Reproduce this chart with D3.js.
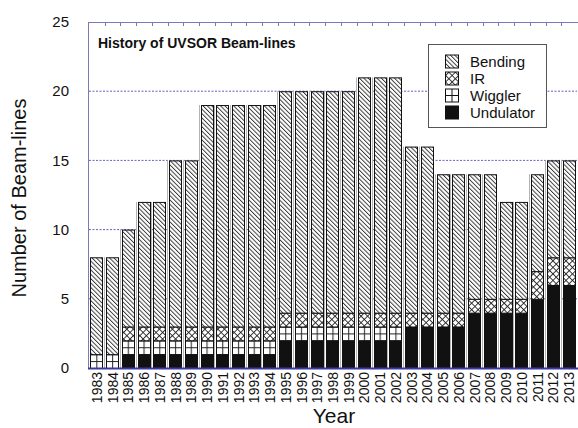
<!DOCTYPE html>
<html><head><meta charset="utf-8">
<script src="https://cdn.jsdelivr.net/npm/d3@7/dist/d3.min.js"></script>
<style>html,body{margin:0;padding:0;background:#fff;}svg{display:block;font-family:Arial,"Liberation Sans",sans-serif;}</style>
</head><body>
<script>
const years = ["1983","1984","1985","1986","1987","1988","1989","1990","1991","1992","1993","1994","1995","1996","1997","1998","1999","2000","2001","2002","2003","2004","2005","2006","2007","2008","2009","2010","2011","2012","2013"];
const undulator = [0,0,1,1,1,1,1,1,1,1,1,1,2,2,2,2,2,2,2,2,3,3,3,3,4,4,4,4,5,6,6];
const wiggler   = [1,1,1,1,1,1,1,1,1,1,1,1,1,1,1,1,1,1,1,1,0,0,0,0,0,0,0,0,0,0,0];
const ir        = [0,0,1,1,1,1,1,1,1,1,1,1,1,1,1,1,1,1,1,1,1,1,1,1,1,1,1,1,2,2,2];
const bending   = [7,7,7,9,9,12,12,16,16,16,16,16,16,16,16,16,16,17,17,17,12,12,10,10,9,9,7,7,7,7,7];
const seriesNames = ["Undulator","Wiggler","IR","Bending"];
const yTicks = [0,5,10,15,20,25];
const legendOrder = ["Bending","IR","Wiggler","Undulator"];

const W = 578, H = 428;
const svg = d3.select("body").append("svg").attr("width", W).attr("height", H);
const defs = svg.append("defs");

const x = d3.scaleBand().domain(years).range([89, 577]).paddingInner(0.17).paddingOuter(0.085);
const y = d3.scaleLinear().domain([0, 25]).range([368, 22]);

// patterns
const pB = defs.append("pattern").attr("id","pBending").attr("patternUnits","userSpaceOnUse")
  .attr("width",3.1).attr("height",3.1).attr("patternTransform","rotate(-45)");
pB.append("rect").attr("width",3.1).attr("height",3.1).attr("fill","#fff");
pB.append("line").attr("x1",0.5).attr("y1",0).attr("x2",0.5).attr("y2",3.1).attr("stroke","#222").attr("stroke-width",0.85);

const pI = defs.append("pattern").attr("id","pIR").attr("patternUnits","userSpaceOnUse")
  .attr("width",4.6).attr("height",4.6).attr("patternTransform","rotate(45)");
pI.append("rect").attr("width",4.6).attr("height",4.6).attr("fill","#fff");
pI.append("line").attr("x1",0.5).attr("y1",0).attr("x2",0.5).attr("y2",4.6).attr("stroke","#222").attr("stroke-width",0.9);
pI.append("line").attr("x1",0).attr("y1",0.5).attr("x2",4.6).attr("y2",0.5).attr("stroke","#222").attr("stroke-width",0.9);

const unitH = y(0) - y(1);
const pW = defs.append("pattern").attr("id","pWiggler").attr("patternUnits","userSpaceOnUse")
  .attr("x", x(years[0])).attr("y", y(0))
  .attr("width", x.step()).attr("height", unitH/2);
pW.append("rect").attr("width", x.step()).attr("height", unitH/2).attr("fill","#fff");
pW.append("line").attr("x1", x.bandwidth()/2).attr("y1",0).attr("x2", x.bandwidth()/2).attr("y2",unitH/2).attr("stroke","#222").attr("stroke-width",1);
pW.append("line").attr("x1",0).attr("y1",0.5).attr("x2",x.step()).attr("y2",0.5).attr("stroke","#222").attr("stroke-width",1);

const fills = {Bending:"url(#pBending)", IR:"url(#pIR)", Wiggler:"url(#pWiggler)", Undulator:"#111"};

// gridlines
svg.append("g").selectAll("line").data(yTicks.filter(t => t > 0 && t < 25)).join("line")
  .attr("x1", 89).attr("x2", 577).attr("y1", d => y(d)).attr("y2", d => y(d))
  .attr("stroke","#3a3ab0").attr("stroke-width",0.8).attr("stroke-dasharray","2,1.5");

// stacked bars
const rows = years.map((yr,i) => ({year: yr, Undulator: undulator[i], Wiggler: wiggler[i], IR: ir[i], Bending: bending[i]}));
const totals = years.map((yr,i) => ({year: yr, total: undulator[i] + wiggler[i] + ir[i] + bending[i]}));
const stack = d3.stack().keys(seriesNames)(rows);

// light gray shadow line at left of each bar
svg.append("g").selectAll("line").data(totals).join("line")
  .attr("x1", d => Math.round(x(d.year)) - 1.5).attr("x2", d => Math.round(x(d.year)) - 1.5)
  .attr("y1", d => y(d.total)).attr("y2", y(0))
  .attr("stroke", "#b4b4b4").attr("stroke-width", 1);

const gBars = svg.append("g");
stack.forEach(layer => {
  gBars.append("g").selectAll("rect").data(layer.filter(d => d[1] > d[0])).join("rect")
    .attr("x", d => Math.round(x(d.data.year)) + 0.5)
    .attr("width", Math.round(x.bandwidth()) - 1)
    .attr("y", d => y(d[1]) + 0.5)
    .attr("height", d => y(d[0]) - y(d[1]))
    .attr("fill", fills[layer.key])
    .attr("stroke", "#111").attr("stroke-width", 1);
});

// axes frame
svg.append("line").attr("x1",88.5).attr("x2",88.5).attr("y1",y(25)).attr("y2",y(0)).attr("stroke","#7a7ab8").attr("stroke-width",1);
svg.append("line").attr("x1",88.5).attr("x2",578).attr("y1",y(25)+0.5).attr("y2",y(25)+0.5).attr("stroke","#7a7ab8").attr("stroke-width",1);
svg.append("line").attr("x1",88).attr("x2",578).attr("y1",y(0)+0.5).attr("y2",y(0)+0.5).attr("stroke","#3a3aa0").attr("stroke-width",2);
// top ticks at band boundaries
svg.append("g").selectAll("line").data(years.slice(0,-1)).join("line")
  .attr("x1", d => Math.round(x(d) + x.bandwidth() + x.step()*x.paddingInner()/2) + 0.5)
  .attr("x2", d => Math.round(x(d) + x.bandwidth() + x.step()*x.paddingInner()/2) + 0.5)
  .attr("y1", y(25)).attr("y2", y(25) + 4).attr("stroke","#7a7ab8").attr("stroke-width",1);

// y tick labels
svg.append("g").selectAll("text").data(yTicks).join("text")
  .attr("x", 69).attr("y", d => y(d)).attr("dy","0.35em").attr("text-anchor","end")
  .attr("font-size", 15).attr("fill","#111").text(d => d);

// x tick labels
svg.append("g").selectAll("text").data(years).join("text")
  .attr("transform", d => `translate(${x(d) + x.bandwidth()/2 + 5},372) rotate(-90)`)
  .attr("text-anchor","end").attr("font-size", 14).attr("fill","#111").text(d => d);

// axis titles
svg.append("text").attr("x", 334).attr("y", 423).attr("text-anchor","middle").attr("font-size", 21).attr("fill","#111").text("Year");
svg.append("text").attr("transform","translate(26,198) rotate(-90)").attr("text-anchor","middle").attr("font-size", 20).attr("fill","#111").text("Number of Beam-lines");

// title
svg.append("text").attr("x", 98).attr("y", 48).attr("font-size", 14).attr("font-weight","bold").attr("fill","#111").text("History of UVSOR Beam-lines");

// legend
const lg = svg.append("g");
lg.append("rect").attr("x",428.5).attr("y",44.5).attr("width",118).attr("height",83).attr("fill","#fff").attr("stroke","#555").attr("stroke-width",1);
legendOrder.forEach((name,i) => {
  const cy = 61.5 + i*17;
  lg.append("rect").attr("x",445.5).attr("y",cy-6.5).attr("width",13).attr("height",13)
    .attr("fill", name === "Wiggler" ? "#fff" : fills[name]).attr("stroke","#111").attr("stroke-width",1);
  if (name === "Wiggler") {
    lg.append("line").attr("x1",452).attr("x2",452).attr("y1",cy-6.5).attr("y2",cy+6.5).attr("stroke","#111");
    lg.append("line").attr("x1",445.5).attr("x2",458.5).attr("y1",cy).attr("y2",cy).attr("stroke","#111");
  }
  lg.append("text").attr("x",470).attr("y",cy).attr("dy","0.36em").attr("font-size",15).attr("fill","#111").text(name);
});
</script>
</body></html>
